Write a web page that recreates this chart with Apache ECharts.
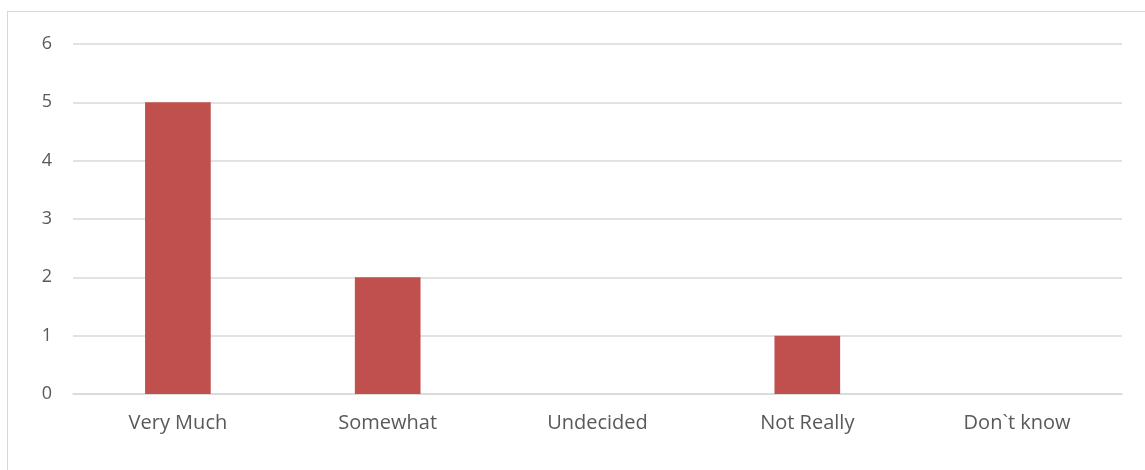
<!DOCTYPE html>
<html>
<head>
<meta charset="utf-8">
<script src="https://cdn.jsdelivr.net/npm/echarts@6/dist/echarts.min.js"></script>
<style>
html,body{margin:0;padding:0;background:#fff;overflow:hidden;}
#frame{position:absolute;left:7px;top:11px;width:1200px;height:500px;border:1px solid #d9d9d9;box-sizing:border-box;}
#chart{position:absolute;left:0;top:0;width:1145px;height:470px;}
</style>
</head>
<body>
<div id="frame"></div>
<div id="chart"></div>
<script>
const categories = ["Very Much", "Somewhat", "Undecided", "Not Really", "Don`t know"];
const values = [5, 2, 0, 1, 0];
const yTicks = [0, 6, 1];

const chart = echarts.init(document.getElementById('chart'), null, {renderer: 'canvas'});
chart.setOption({
  animation: false,
  backgroundColor: 'transparent',
  grid: {left: 73, right: 23, top: 44, bottom: 76, containLabel: false},
  xAxis: {
    type: 'category',
    data: categories,
    axisLine: {show: true, lineStyle: {color: '#d9d9d9', width: 1.5}},
    axisTick: {show: false},
    axisLabel: {color: '#595959', fontFamily: 'Open Sans', fontSize: 20, margin: 19}
  },
  yAxis: {
    type: 'value',
    min: yTicks[0], max: yTicks[1], interval: yTicks[2],
    axisLine: {show: false},
    axisTick: {show: false},
    axisLabel: {color: '#595959', fontFamily: 'Open Sans', fontSize: 18, margin: 21},
    splitLine: {lineStyle: {color: '#d9d9d9', width: 1.5}}
  },
  series: [{
    type: 'bar',
    data: values,
    barWidth: '31.3%',
    itemStyle: {color: '#C0504D'}
  }]
});
</script>
</body>
</html>
